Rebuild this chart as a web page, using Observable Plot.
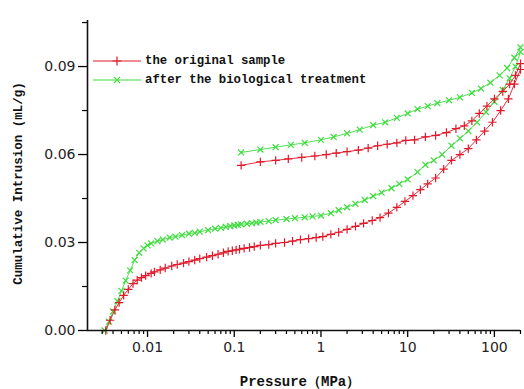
<!DOCTYPE html>
<html><head><meta charset="utf-8">
<script src="https://cdn.jsdelivr.net/npm/d3@7"></script>
<script src="https://cdn.jsdelivr.net/npm/@observablehq/plot@0.6"></script>
<style>
body{margin:0;background:#fff;}
#wrap{position:relative;width:524px;height:389px;}
#legend{position:absolute;left:0;top:0;pointer-events:none;}
#legend text{font-family:"Liberation Mono",monospace;font-weight:bold;font-size:12.3px;fill:#111;}
</style></head><body><div id="wrap"></div>
<script>
// ---- tick labels / text ----
const xTicks = [0.01, 0.1, 1, 10, 100];
const xTickLabels = ["0.01", "0.1", "1", "10", "100"];
const yTicks = [0, 0.03, 0.06, 0.09];
const yTickLabels = ["0.00", "0.03", "0.06", "0.09"];
const yMinor = [0.015, 0.045, 0.075, 0.105];
const seriesNames = ["the original sample", "after the biological treatment"];
const xTitle = "Pressure（MPa）";
const yTitle = "Cumulative Intrusion (mL/g)";
const xDomain = [0.00203, 200];
const yDomain = [0, 0.1057];

// ---- original sample: intrusion (pressure MPa, volume mL/g) ----
const origInP = [0.0033,0.0037,0.0042,0.0047,0.0053,0.0060,0.0068,0.0076,0.0085,0.0095,0.011,0.012,0.014,0.016,0.019,0.022,0.026,0.030,0.035,0.040,0.048,0.056,0.065,0.075,0.085,0.095,0.105,0.115,0.13,0.15,0.17,0.20,0.25,0.30,0.38,0.47,0.58,0.72,0.88,1.05,1.3,1.6,2.0,2.5,3.1,3.9,4.8,6.0,7.5,9.3,11.5,14,17,21,26,32,40,50,62,77,95,118,145,170,200];
const origInV = [0.000,0.0035,0.007,0.0095,0.012,0.014,0.016,0.0172,0.018,0.0187,0.0195,0.020,0.0207,0.0213,0.022,0.0225,0.023,0.0235,0.024,0.0245,0.025,0.0255,0.026,0.0265,0.027,0.0272,0.0275,0.0277,0.028,0.0283,0.0286,0.029,0.0293,0.0297,0.030,0.0305,0.031,0.0313,0.0317,0.032,0.0328,0.0335,0.0345,0.0355,0.0365,0.0375,0.0385,0.040,0.042,0.044,0.046,0.048,0.050,0.052,0.055,0.058,0.060,0.062,0.065,0.068,0.071,0.075,0.079,0.084,0.089];
// ---- original sample: extrusion ----
const origOutP = [200,175,150,125,100,82,67,55,45,36,28,21,16,12,9.5,7.5,5.8,4.5,3.5,2.7,2.0,1.5,1.15,0.85,0.6,0.42,0.3,0.2,0.12];
const origOutV = [0.091,0.087,0.084,0.0815,0.079,0.0765,0.074,0.0715,0.0698,0.0688,0.0675,0.0665,0.066,0.065,0.0648,0.064,0.0635,0.063,0.0622,0.0615,0.061,0.0605,0.060,0.0595,0.059,0.0585,0.058,0.0575,0.0563];

// ---- after biological treatment: intrusion ----
const bioInP = [0.0032,0.0036,0.0040,0.0045,0.0050,0.0056,0.0063,0.0071,0.0080,0.0090,0.010,0.011,0.013,0.015,0.018,0.021,0.025,0.030,0.035,0.040,0.050,0.060,0.070,0.080,0.090,0.10,0.11,0.12,0.14,0.16,0.18,0.20,0.25,0.30,0.40,0.50,0.65,0.80,1.0,1.3,1.6,2.0,2.5,3.2,4.0,5.0,6.5,8.0,10,13,16,20,25,32,40,50,63,80,100,125,150,175,200];
const bioInV = [0.000,0.003,0.0065,0.010,0.0135,0.017,0.0205,0.024,0.0265,0.028,0.029,0.0297,0.0305,0.031,0.0317,0.032,0.0325,0.033,0.0333,0.0337,0.0342,0.0347,0.035,0.0353,0.0356,0.0358,0.036,0.0362,0.0364,0.0366,0.0368,0.037,0.0373,0.0376,0.038,0.0383,0.0386,0.0389,0.0392,0.040,0.041,0.042,0.0432,0.0445,0.0458,0.047,0.0485,0.050,0.0515,0.054,0.0565,0.058,0.060,0.063,0.0655,0.068,0.071,0.0745,0.078,0.082,0.086,0.090,0.095];
// ---- after biological treatment: extrusion ----
const bioOutP = [200,170,140,115,90,70,55,40,30,22,17,13,10,7.5,5.5,4.0,2.8,2.0,1.4,1.0,0.65,0.45,0.3,0.2,0.12];
const bioOutV = [0.0965,0.093,0.0895,0.087,0.0845,0.0825,0.081,0.0795,0.0785,0.0775,0.0765,0.0755,0.074,0.0725,0.071,0.070,0.0685,0.0672,0.066,0.065,0.064,0.0633,0.0625,0.0617,0.0607];

const colors = ["#e01a2a", "#3ddc3d"];

const rows = (p, v) => p.map((x, i) => ({x, y: v[i]}));
const origIn = rows(origInP, origInV), origOut = rows(origOutP, origOutV);
const bioIn = rows(bioInP, bioInV), bioOut = rows(bioOutP, bioOutV);

const xMinor = [];
for (const e of [-3, -2, -1, 0, 1, 2]) for (let k = 2; k < 10; k++) {
  const v = +(k * Math.pow(10, e)).toPrecision(6);
  if (v >= xDomain[0] && v <= xDomain[1]) xMinor.push(v);
}

const tickFont = {fontFamily: "DejaVu Sans", fontSize: 14, fill: "#222"};
const titleFont = {fontFamily: "Liberation Mono", fontWeight: "bold", fill: "#111"};

const branch = (data, color, symbol) => [
  Plot.line(data, {x: "x", y: "y", stroke: color, strokeWidth: 0.9}),
  Plot.dot(data, {x: "x", y: "y", symbol, stroke: color, r: 2.8, strokeWidth: 1.2})
];

const plot = Plot.plot({
  width: 524, height: 389,
  marginLeft: 87, marginRight: 4, marginTop: 20, marginBottom: 59,
  x: {type: "log", domain: xDomain},
  y: {domain: yDomain},
  style: {background: "white", overflow: "visible"},
  marks: [
    ...branch(bioIn, colors[1], "times"),
    ...branch(bioOut, colors[1], "times"),
    ...branch(origIn, colors[0], "plus"),
    ...branch(origOut, colors[0], "plus"),
    Plot.axisX(xMinor, {tickSize: 4, text: null, label: null, strokeWidth: 1.2}),
    Plot.axisX(xTicks, {tickSize: 7, tickPadding: 5, label: null, strokeWidth: 1.3,
      tickFormat: d => xTickLabels[xTicks.indexOf(d)], ...tickFont}),
    Plot.axisY(yMinor, {tickSize: 5, text: null, label: null, strokeWidth: 1.2}),
    Plot.axisY(yTicks, {tickSize: 9, tickPadding: 3, label: null, strokeWidth: 1.3,
      tickFormat: d => yTickLabels[yTicks.indexOf(d)], ...tickFont}),
    Plot.ruleY([yDomain[0]], {stroke: "#111", strokeWidth: 1.6}),
    Plot.ruleX([xDomain[0]], {stroke: "#111", strokeWidth: 1.6}),
    Plot.text([yTitle], {text: d => d, frameAnchor: "left", textAnchor: "middle", lineAnchor: "middle",
      rotate: -90, dx: -70, dy: 8, fontSize: 12.5, ...titleFont}),
    Plot.text([xTitle], {text: d => d, frameAnchor: "bottom", textAnchor: "middle", lineAnchor: "middle",
      dx: -4, dy: 51, fontSize: 14, ...titleFont})
  ]
});
const wrap = document.getElementById("wrap");
wrap.appendChild(plot);

// ---- legend overlay ----
const ns = "http://www.w3.org/2000/svg";
const lg = document.createElementNS(ns, "svg");
lg.setAttribute("id", "legend");
lg.setAttribute("width", 524); lg.setAttribute("height", 389);
const sym = [d3.symbol(d3.symbolPlus, 28), d3.symbol(d3.symbolTimes, 28)];
const rowsY = [61, 80];
seriesNames.forEach((name, i) => {
  const y = rowsY[i];
  const ln = document.createElementNS(ns, "line");
  ln.setAttribute("x1", 93); ln.setAttribute("x2", 141);
  ln.setAttribute("y1", y); ln.setAttribute("y2", y);
  ln.setAttribute("stroke", colors[i]); ln.setAttribute("stroke-width", 1.2);
  lg.appendChild(ln);
  const p = document.createElementNS(ns, "path");
  p.setAttribute("d", sym[i]());
  p.setAttribute("transform", `translate(117,${y})`);
  p.setAttribute("fill", "none"); p.setAttribute("stroke", colors[i]); p.setAttribute("stroke-width", 1.2);
  lg.appendChild(p);
  const t = document.createElementNS(ns, "text");
  t.setAttribute("x", 145); t.setAttribute("y", y);
  t.setAttribute("dominant-baseline", "central");
  t.textContent = name;
  lg.appendChild(t);
});
wrap.appendChild(lg);
</script>
</body></html>
